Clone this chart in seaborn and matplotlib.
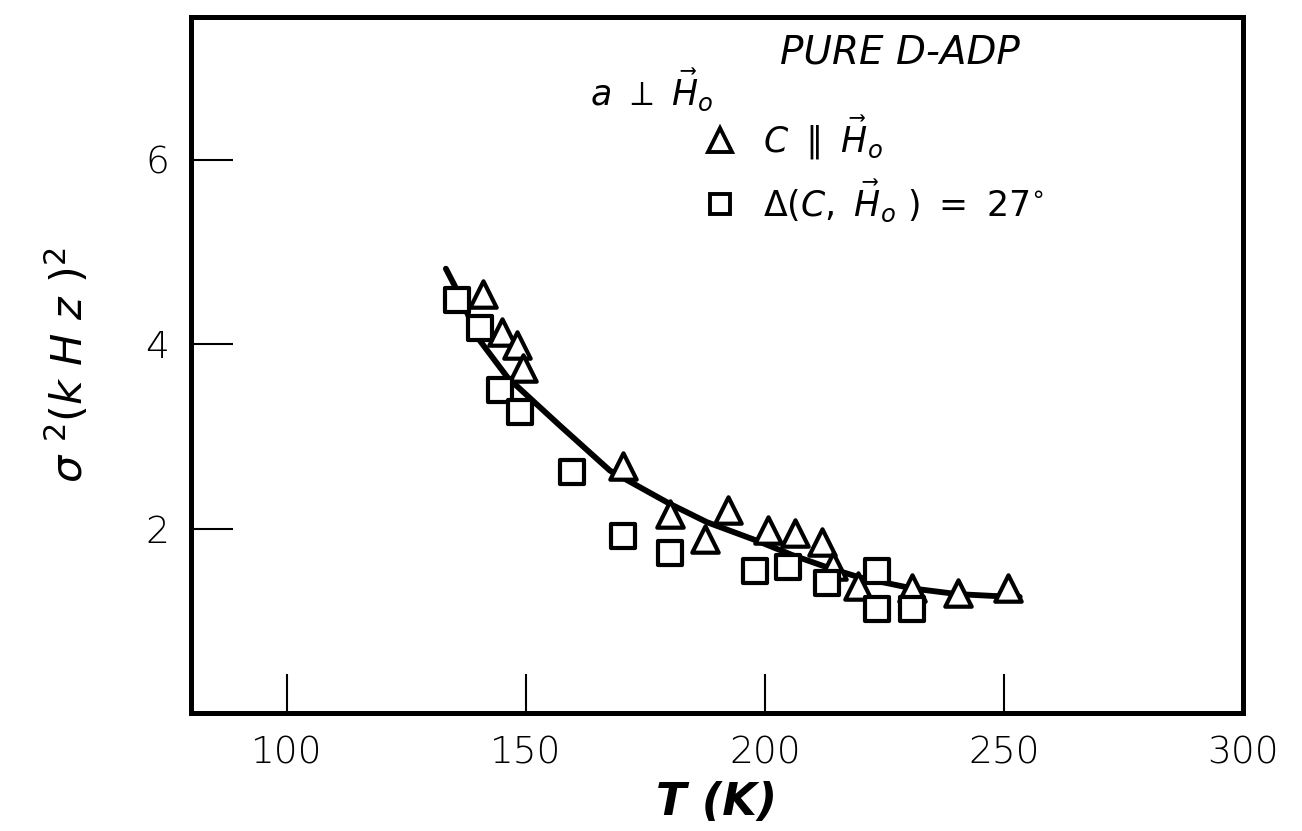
import matplotlib
matplotlib.use("Agg")
import matplotlib.pyplot as plt
from matplotlib.lines import Line2D
import seaborn as sns
import pandas as pd

# ---- data ----
tri_T = [141.0, 145.0, 148.1, 149.4, 170.3, 180.1, 187.4, 192.3, 200.6, 206.3,
         211.9, 214.2, 219.5, 230.8, 240.4, 250.8]
tri_s2 = [4.55, 4.13, 3.99, 3.74, 2.68, 2.16, 1.89, 2.20, 1.98, 1.95,
          1.85, 1.60, 1.38, 1.36, 1.30, 1.36]

sq_T = [135.6, 140.4, 144.6, 148.7, 159.6, 170.3, 180.1, 197.9, 204.8, 213.0,
        223.4, 223.4, 230.8]
sq_s2 = [4.48, 4.18, 3.50, 3.26, 2.61, 1.92, 1.74, 1.54, 1.58, 1.41,
         1.54, 1.13, 1.13]

fit_T = [133.3, 135.1, 140.4, 146.2, 150.8, 157.1, 167.6, 180.1, 187.9, 198.3,
         205.9, 213.6, 219.9, 231.0, 240.2, 247.7, 253.3]
fit_s2 = [4.82, 4.64, 4.04, 3.64, 3.42, 3.12, 2.63, 2.27, 2.07, 1.87,
          1.71, 1.57, 1.47, 1.35, 1.29, 1.27, 1.26]

x_ticks = [100, 150, 200, 250, 300]
y_ticks = [2, 4, 6]

tri_label = r'$C\ \parallel\ \vec{H}_{o}$'
sq_label = r'$\Delta(C,\ \vec{H}_{o}\ )\ =\ 27^{\circ}$'

# ---- style ----
sns.set_theme(style="white")
plt.rcParams['font.family'] = ['DejaVu Sans']
plt.rcParams['mathtext.fontset'] = 'dejavusans'

tri_df = pd.DataFrame({"T": tri_T, "s2": tri_s2})
sq_df = pd.DataFrame({"T": sq_T, "s2": sq_s2})
fit_df = pd.DataFrame({"T": fit_T, "s2": fit_s2})

fig = plt.figure(figsize=(13.02, 8.31), dpi=100)
ax = fig.add_axes([0.1467, 0.142, 0.808, 0.8375])

sns.lineplot(data=fit_df, x="T", y="s2", ax=ax, color="black", lw=4.2,
             sort=False, zorder=2, legend=False)
sns.scatterplot(data=tri_df, x="T", y="s2", ax=ax, marker="^", s=19**2,
                facecolor="white", edgecolor="black", linewidth=3, zorder=3,
                legend=False)
sns.scatterplot(data=sq_df, x="T", y="s2", ax=ax, marker="s", s=17**2,
                facecolor="white", edgecolor="black", linewidth=3, zorder=3,
                legend=False)

ax.set_xlim(80, 300)
ax.set_ylim(0, 7.55)
ax.set_xticks(x_ticks)
ax.set_yticks(y_ticks)
ax.set_xticklabels([str(v) for v in x_ticks])
ax.set_yticklabels([str(v) for v in y_ticks])

for sp in ax.spines.values():
    sp.set_linewidth(3.6)
    sp.set_color("black")

ax.tick_params(axis="x", which="both", direction="in", length=28, width=1.5,
               color="black", pad=16, labelsize=27, bottom=True, top=False)
ax.tick_params(axis="y", which="both", direction="in", length=30, width=1.5,
               color="black", pad=16, labelsize=27, left=True, right=False)
for lab in ax.get_xticklabels() + ax.get_yticklabels():
    lab.set_fontweight("light")
    lab.set_color("black")

ax.set_xlabel("T (K)", fontsize=32, fontweight="bold", fontstyle="italic",
              labelpad=8, color="black")
ax.set_ylabel(r"$\sigma\ ^{2}(k\ H\ z\ )^{2}$", fontsize=31, labelpad=38,
              color="black")

ax.text(228.2, 7.05, "PURE D-ADP", fontsize=28, fontstyle="italic",
        ha="center", va="baseline", color="black")
ax.text(163.4, 6.6, r'$a\ \perp\ \vec{H}_{o}$', fontsize=25,
        ha="left", va="baseline", color="black")

handles = [
    Line2D([], [], ls="none", marker="^", ms=17, mfc="white", mec="black", mew=2.8),
    Line2D([], [], ls="none", marker="s", ms=15, mfc="white", mec="black", mew=2.8),
]
leg = ax.legend(handles, [tri_label, sq_label], loc="upper left",
                bbox_to_anchor=(0.486, 0.862), frameon=False, fontsize=25,
                handlelength=1.0, handletextpad=0.75, labelspacing=0.45,
                borderpad=0.0, borderaxespad=0.0)
for t in leg.get_texts():
    t.set_color("black")

fig.savefig("out.png", dpi=100, facecolor="white")
